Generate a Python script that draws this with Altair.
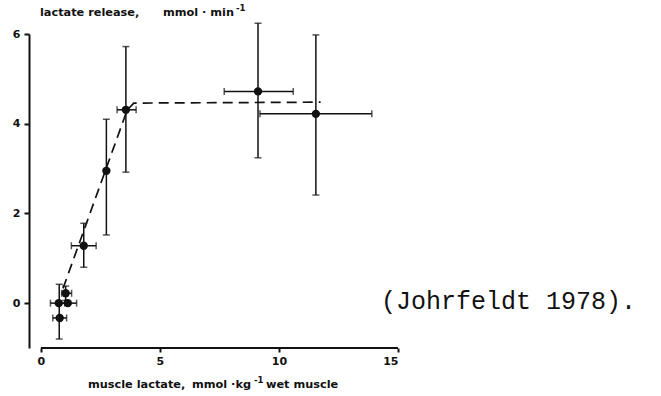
import altair as alt
import pandas as pd

# Mean values per group
muscle_lactate = [0.79, 0.75, 1.13, 1.04, 1.80, 2.75, 3.57, 9.12, 11.55]
lactate_release = [-0.33, 0.00, 0.00, 0.22, 1.28, 2.95, 4.31, 4.72, 4.22]

# Vertical error bars (release range)
v_x = [0.77, 1.04, 1.80, 2.75, 3.57, 9.12, 11.55]
v_lo = [-0.80, 0.06, 0.80, 1.52, 2.92, 3.24, 2.41]
v_hi = [0.42, 0.38, 1.78, 4.10, 5.72, 6.24, 5.98]

# Horizontal error bars (muscle lactate range)
h_y = [-0.33, 0.00, 0.00, 0.22, 1.28, 4.31, 4.72, 4.22]
h_lo = [0.50, 0.40, 0.80, 0.87, 1.28, 3.20, 7.70, 9.20]
h_hi = [1.08, 1.00, 1.50, 1.29, 2.32, 4.00, 10.60, 13.90]

# Dashed fitted curve
fit_x = [0.93, 3.62, 3.90, 11.75]
fit_y = [0.33, 4.30, 4.46, 4.48]

x_ticks = [0, 5, 10, 15]
y_ticks = [0, 2, 4, 6]

pts = pd.DataFrame({"x": muscle_lactate, "y": lactate_release})
verr = pd.DataFrame({"x": v_x, "lo": v_lo, "hi": v_hi})
herr = pd.DataFrame({"y": h_y, "lo": h_lo, "hi": h_hi})
fit = pd.DataFrame({"x": fit_x, "y": fit_y})
xaxis_line = pd.DataFrame({"x": [x_ticks[0]], "x2": [x_ticks[-1]], "y": [-1.0]})

xs = alt.Scale(domain=[-0.5, 15], nice=False, zero=False)
ys = alt.Scale(domain=[-1, 6], nice=False, zero=False)

X = alt.X("x:Q", scale=xs, axis=alt.Axis(values=x_ticks, domain=False, title=None, grid=False,
                                          tickSize=4, tickWidth=2, labelPadding=3))
Y = alt.Y("y:Q", scale=ys, axis=alt.Axis(values=y_ticks, title=None, grid=False,
                                          tickSize=5, tickWidth=2, domainWidth=2, labelPadding=4))

black = "#111111"
title_font = "DejaVu Sans"

base_axis = alt.Chart(xaxis_line).mark_rule(color=black, strokeWidth=2).encode(
    x=alt.X("x:Q", scale=xs), x2="x2:Q", y=alt.Y("y:Q", scale=ys)
)

fit_line = alt.Chart(fit).mark_line(color=black, strokeWidth=1.7, strokeDash=[10, 6]).encode(
    x=X, y=Y, order=alt.Order("x:Q")
)

v_rules = alt.Chart(verr).mark_rule(color=black, strokeWidth=1.5).encode(
    x=alt.X("x:Q", scale=xs), y=alt.Y("lo:Q", scale=ys), y2="hi:Q"
)
v_caps_lo = alt.Chart(verr).mark_tick(color=black, orient="horizontal", size=7, thickness=1.5).encode(
    x=alt.X("x:Q", scale=xs), y=alt.Y("lo:Q", scale=ys)
)
v_caps_hi = alt.Chart(verr).mark_tick(color=black, orient="horizontal", size=7, thickness=1.5).encode(
    x=alt.X("x:Q", scale=xs), y=alt.Y("hi:Q", scale=ys)
)

h_rules = alt.Chart(herr).mark_rule(color=black, strokeWidth=1.5).encode(
    x=alt.X("lo:Q", scale=xs), x2="hi:Q", y=alt.Y("y:Q", scale=ys)
)
h_caps_lo = alt.Chart(herr).mark_tick(color=black, orient="vertical", size=7, thickness=1.5).encode(
    x=alt.X("lo:Q", scale=xs), y=alt.Y("y:Q", scale=ys)
)
h_caps_hi = alt.Chart(herr).mark_tick(color=black, orient="vertical", size=7, thickness=1.5).encode(
    x=alt.X("hi:Q", scale=xs), y=alt.Y("y:Q", scale=ys)
)

points = alt.Chart(pts).mark_point(filled=True, shape="circle", size=70, color=black, opacity=1).encode(
    x=X, y=Y
)

# Axis titles, split so the "-1" exponents can be raised (pixels relative to the plot area)
title_parts = pd.DataFrame({
    "text": ["lactate release,", "mmol · min",
             "muscle lactate,", "mmol ·kg", "wet muscle"],
    "px": [11, 134, 59, 163, 237],
    "py": [-18, -18, 354, 354, 354],
})
titles = alt.Chart(title_parts).mark_text(
    font=title_font, fontWeight="bold", fontSize=11.3, align="left", baseline="alphabetic", color=black
).encode(x=alt.X("px:Q", scale=None), y=alt.Y("py:Q", scale=None), text="text:N")

sup_parts = pd.DataFrame({
    "text": ["-1", "-1"],
    "px": [207, 225],
    "py": [-23, 349],
})
sups = alt.Chart(sup_parts).mark_text(
    font=title_font, fontWeight="bold", fontSize=8.5, align="left", baseline="alphabetic", color=black
).encode(x=alt.X("px:Q", scale=None), y=alt.Y("py:Q", scale=None), text="text:N")

note = alt.Chart(pd.DataFrame({"text": ["(Johrfeldt 1978)."]})).mark_text(
    font="Liberation Mono", fontSize=25, align="left", baseline="middle", color=black
).encode(x=alt.value(352), y=alt.value(267), text="text:N")

chart = alt.layer(
    base_axis, fit_line, v_rules, v_caps_lo, v_caps_hi, h_rules, h_caps_lo, h_caps_hi, points,
    titles, sups, note
).properties(
    width=369, height=314,
    autosize=alt.AutoSizeParams(type="none"),
    padding={"left": 29, "top": 34, "right": 263, "bottom": 48},
    background="white",
).configure_view(stroke=None).configure_axis(
    labelFont=title_font, labelFontWeight="bold", labelFontSize=11, labelColor=black,
    domainColor=black, tickColor=black,
)

chart.save("out.html", embed_options={"renderer": "svg", "actions": False})
